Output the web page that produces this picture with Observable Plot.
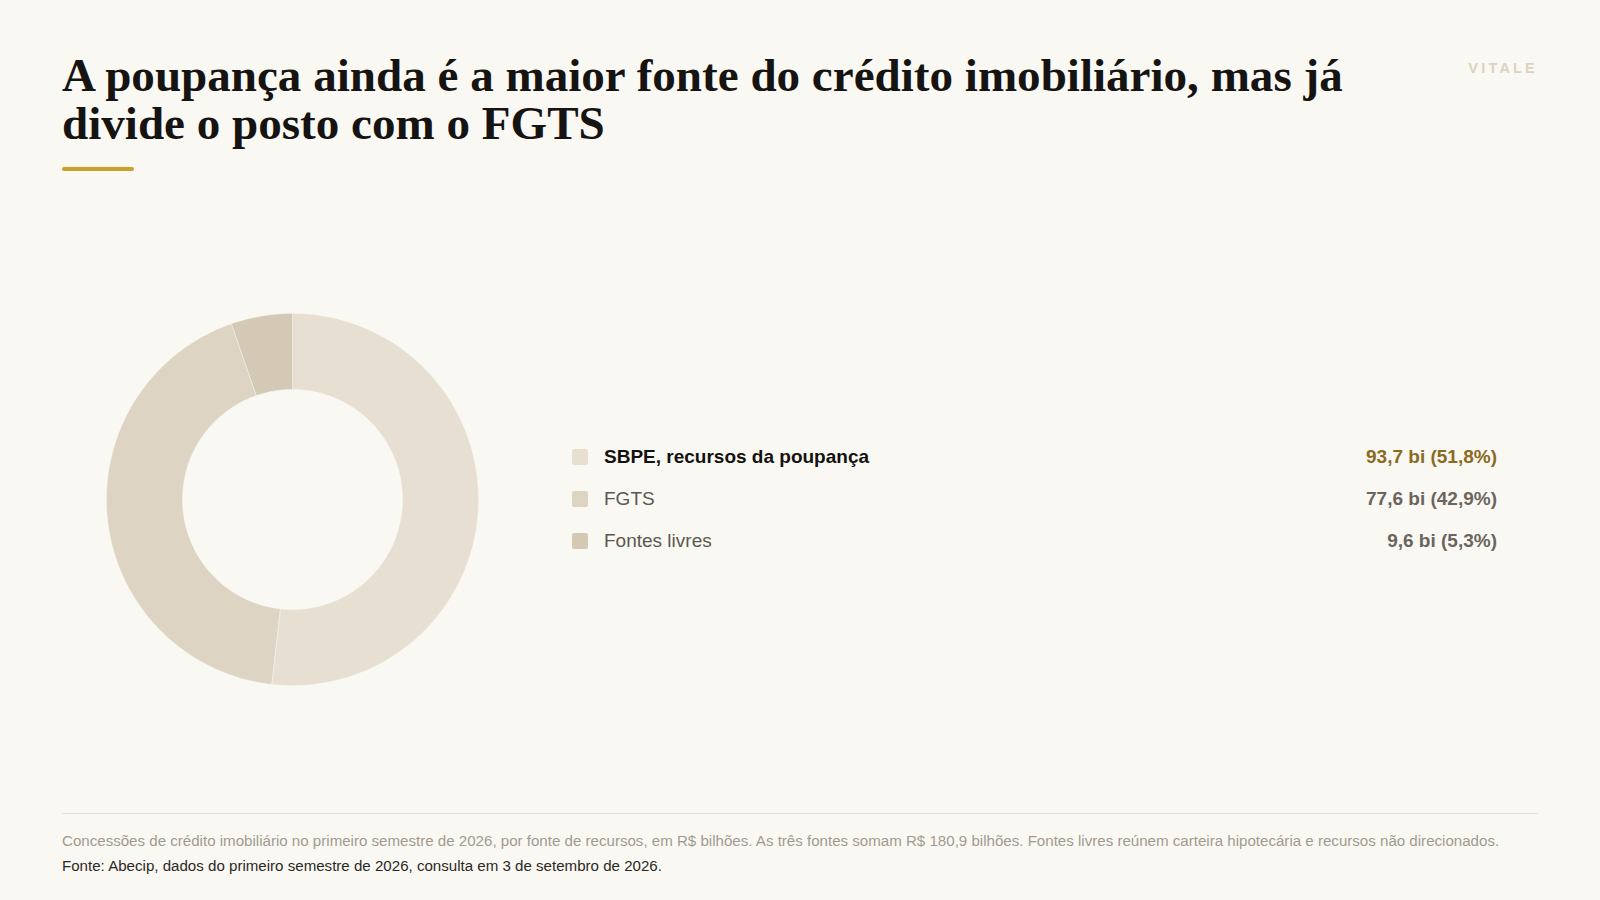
<!DOCTYPE html>
<html lang="pt-BR"><head><meta charset="utf-8">
<script src="https://cdn.jsdelivr.net/npm/d3@7"></script>
<script src="https://cdn.jsdelivr.net/npm/@observablehq/plot@0.6"></script>
<style>
html,body{margin:0;padding:0;background:#faf8f3;}
body{width:1600px;height:900px;position:relative;overflow:hidden;font-family:"Liberation Sans",Arial,Helvetica,sans-serif;}
#title{position:absolute;left:62px;top:51px;margin:0;font-family:"Liberation Serif","Times New Roman",serif;font-weight:700;font-size:44px;line-height:48px;color:#161412;white-space:nowrap;}
#rule{position:absolute;left:62px;top:167px;width:72px;height:4px;background:#c9a02a;border-radius:2px;}
#brand{position:absolute;right:62px;top:60px;font-weight:700;font-size:14.5px;letter-spacing:3.2px;color:#dcd3c1;}
#chart{position:absolute;left:92px;top:299px;}
#legend{position:absolute;left:572px;top:436px;width:925px;}
.row{display:flex;align-items:center;height:42px;}
.sw{width:16px;height:16px;border-radius:2px;margin-right:16px;flex:none;}
.lab{flex:1;font-size:19px;color:#5d574f;}
.val{font-size:19px;font-weight:700;color:#6b655d;}
#hair{position:absolute;left:62px;top:813px;width:1476px;height:1px;background:#e6e1d6;}
#cap{position:absolute;left:62px;top:832px;font-size:15.1px;color:#a19b8f;white-space:nowrap;}
#src{position:absolute;left:62px;top:857px;font-size:15.1px;color:#2b2824;white-space:nowrap;}
</style>
</head>
<body>
<h1 id="title"><span id="t1">A poupança ainda é a maior fonte do crédito imobiliário, mas já</span><br><span>divide o posto com o FGTS</span></h1>
<div id="rule"></div>
<div id="brand">VITALE</div>
<div id="chart"></div>
<div id="legend"></div>
<div id="hair"></div>
<div id="cap">Concessões de crédito imobiliário no primeiro semestre de 2026, por fonte de recursos, em R$ bilhões. As três fontes somam R$ 180,9 bilhões. Fontes livres reúnem carteira hipotecária e recursos não direcionados.</div>
<div id="src">Fonte: Abecip, dados do primeiro semestre de 2026, consulta em 3 de setembro de 2026.</div>
<script>
const categories = ["SBPE, recursos da poupança", "FGTS", "Fontes livres"];
const values = [93.7, 77.6, 9.6];
const colors = ["#e6dfd2", "#ddd4c4", "#d4c9b5"];
const labelColors = ["#141210", "#5d574f", "#5d574f"];
const labelWeights = [700, 400, 400];
const valueColors = ["#8a6a1e", "#6b655d", "#6b655d"];

const bg = "#faf8f3";
const total = d3.sum(values);
const fmt = v => v.toFixed(1).replace(".", ",");

// fit title width
const t1 = document.getElementById("t1");
const target = 1281;
const w = t1.getBoundingClientRect().width;
if (w > 0) {
  const fs = Math.max(36, Math.min(50, 44 * target / w));
  document.getElementById("title").style.fontSize = fs + "px";
}

// donut polygons
const inner = 110 / 186, outer = 1;
const pts = [];
let acc = 0;
categories.forEach((c, i) => {
  const a0 = acc / total * 2 * Math.PI;
  acc += values[i];
  const a1 = acc / total * 2 * Math.PI;
  const n = Math.max(8, Math.ceil((a1 - a0) / 0.01));
  for (let k = 0; k <= n; k++) {
    const a = a0 + (a1 - a0) * k / n;
    pts.push({cat: c, x: outer * Math.sin(a), y: outer * Math.cos(a)});
  }
  for (let k = n; k >= 0; k--) {
    const a = a0 + (a1 - a0) * k / n;
    pts.push({cat: c, x: inner * Math.sin(a), y: inner * Math.cos(a)});
  }
});

const plot = Plot.plot({
  width: 400, height: 400,
  margin: 0,
  style: {background: "transparent"},
  x: {domain: [-1.075, 1.075], axis: null},
  y: {domain: [-1.075, 1.075], axis: null},
  color: {domain: categories, range: colors},
  marks: [
    Plot.line(pts, {x: "x", y: "y", z: "cat", fill: "cat", stroke: bg, strokeWidth: 0.6, strokeOpacity: 0.7, curve: "linear-closed"})
  ]
});
document.getElementById("chart").appendChild(plot);

// legend
const legend = document.getElementById("legend");
categories.forEach((c, i) => {
  const row = document.createElement("div");
  row.className = "row";
  const sw = document.createElement("div");
  sw.className = "sw"; sw.style.background = colors[i];
  const lab = document.createElement("div");
  lab.className = "lab"; lab.textContent = c;
  lab.style.color = labelColors[i]; lab.style.fontWeight = labelWeights[i];
  const val = document.createElement("div");
  val.className = "val";
  val.textContent = `${fmt(values[i])} bi (${fmt(values[i] / total * 100)}%)`;
  val.style.color = valueColors[i];
  row.append(sw, lab, val);
  legend.appendChild(row);
});
</script>
</body></html>
